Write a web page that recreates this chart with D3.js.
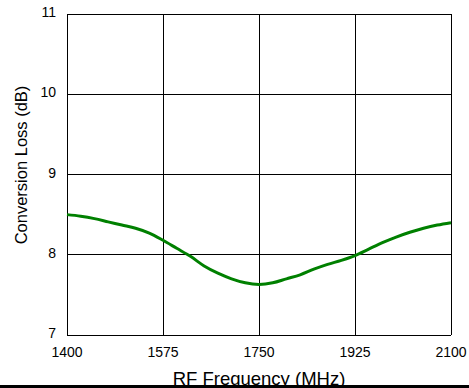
<!DOCTYPE html>
<html>
<head>
<meta charset="utf-8">
<script src="https://cdn.jsdelivr.net/npm/d3@7"></script>
<style>
  body { margin: 0; background: #fff; }
  svg text { font-family: Arial, "Liberation Sans", sans-serif; fill: #000; }
</style>
</head>
<body>
<div id="canvas"></div>
<script>
// RF frequency (MHz) and conversion loss (dB)
var freq = [1400, 1425, 1450, 1475, 1500, 1525, 1550, 1575, 1600, 1625, 1650, 1675, 1700, 1725, 1750,
            1775, 1800, 1825, 1850, 1875, 1900, 1925, 1950, 1975, 2000, 2025, 2050, 2075, 2100];
var loss = [8.50, 8.48, 8.45, 8.41, 8.37, 8.33, 8.27, 8.18, 8.08, 7.98, 7.86, 7.77, 7.70, 7.65, 7.63,
            7.65, 7.70, 7.75, 7.82, 7.88, 7.93, 7.99, 8.07, 8.15, 8.22, 8.28, 8.33, 8.37, 8.40];
var xTicks = [1400, 1575, 1750, 1925, 2100];
var yTicks = [7, 8, 9, 10, 11];

var width = 469, height = 388;
var plotLeft = 67, plotRight = 451, plotTop = 14, plotBottom = 335;

var svg = d3.select("div#canvas").append("svg")
  .attr("width", width)
  .attr("height", height);

var x = d3.scaleLinear().domain([1400, 2100]).range([plotLeft, plotRight]);
var y = d3.scaleLinear().domain([7, 11]).range([plotBottom, plotTop]);

// title, mostly off the top of the picture
svg.append("text")
  .attr("x", 348).attr("y", -3)
  .attr("text-anchor", "end")
  .style("font-size", "17px").style("font-weight", "bold").style("font-style", "italic")
  .text("Conversion Loss vs. Frequency");

// grid
svg.append("g").selectAll("line").data(xTicks).enter().append("line")
  .attr("x1", function(d) { return x(d); }).attr("x2", function(d) { return x(d); })
  .attr("y1", plotTop).attr("y2", plotBottom)
  .attr("stroke", "#000").attr("stroke-width", 1).attr("shape-rendering", "crispEdges");
svg.append("g").selectAll("line").data(yTicks).enter().append("line")
  .attr("y1", function(d) { return y(d); }).attr("y2", function(d) { return y(d); })
  .attr("x1", plotLeft).attr("x2", plotRight)
  .attr("stroke", "#000").attr("stroke-width", 1).attr("shape-rendering", "crispEdges");

// tick labels
svg.append("g").selectAll("text").data(xTicks).enter().append("text")
  .attr("x", function(d) { return x(d); }).attr("y", 357)
  .attr("text-anchor", "middle")
  .style("font-size", "14px")
  .text(function(d) { return d; });
svg.append("g").selectAll("text").data(yTicks).enter().append("text")
  .attr("x", 56).attr("y", function(d) { return y(d) + 3; })
  .attr("text-anchor", "end")
  .style("font-size", "14px")
  .text(function(d) { return d; });

// curve
var line = d3.line()
  .x(function(d, i) { return x(freq[i]); })
  .y(function(d) { return y(d); })
  .curve(d3.curveMonotoneX);
svg.append("path")
  .datum(loss)
  .attr("d", line)
  .attr("fill", "none")
  .attr("stroke", "#008000")
  .attr("stroke-width", 3);

// axis titles
svg.append("text")
  .attr("x", (plotLeft + plotRight) / 2).attr("y", 384.5)
  .attr("text-anchor", "middle")
  .style("font-size", "18.5px")
  .text("RF Frequency (MHz)");
svg.append("text")
  .attr("transform", "translate(27,165) rotate(-90)")
  .attr("text-anchor", "middle")
  .style("font-size", "16.5px")
  .text("Conversion Loss (dB)");

// thick rule along the bottom
svg.append("rect")
  .attr("x", 0).attr("y", 385).attr("width", width).attr("height", 3)
  .attr("fill", "#000");
</script>
</body>
</html>
